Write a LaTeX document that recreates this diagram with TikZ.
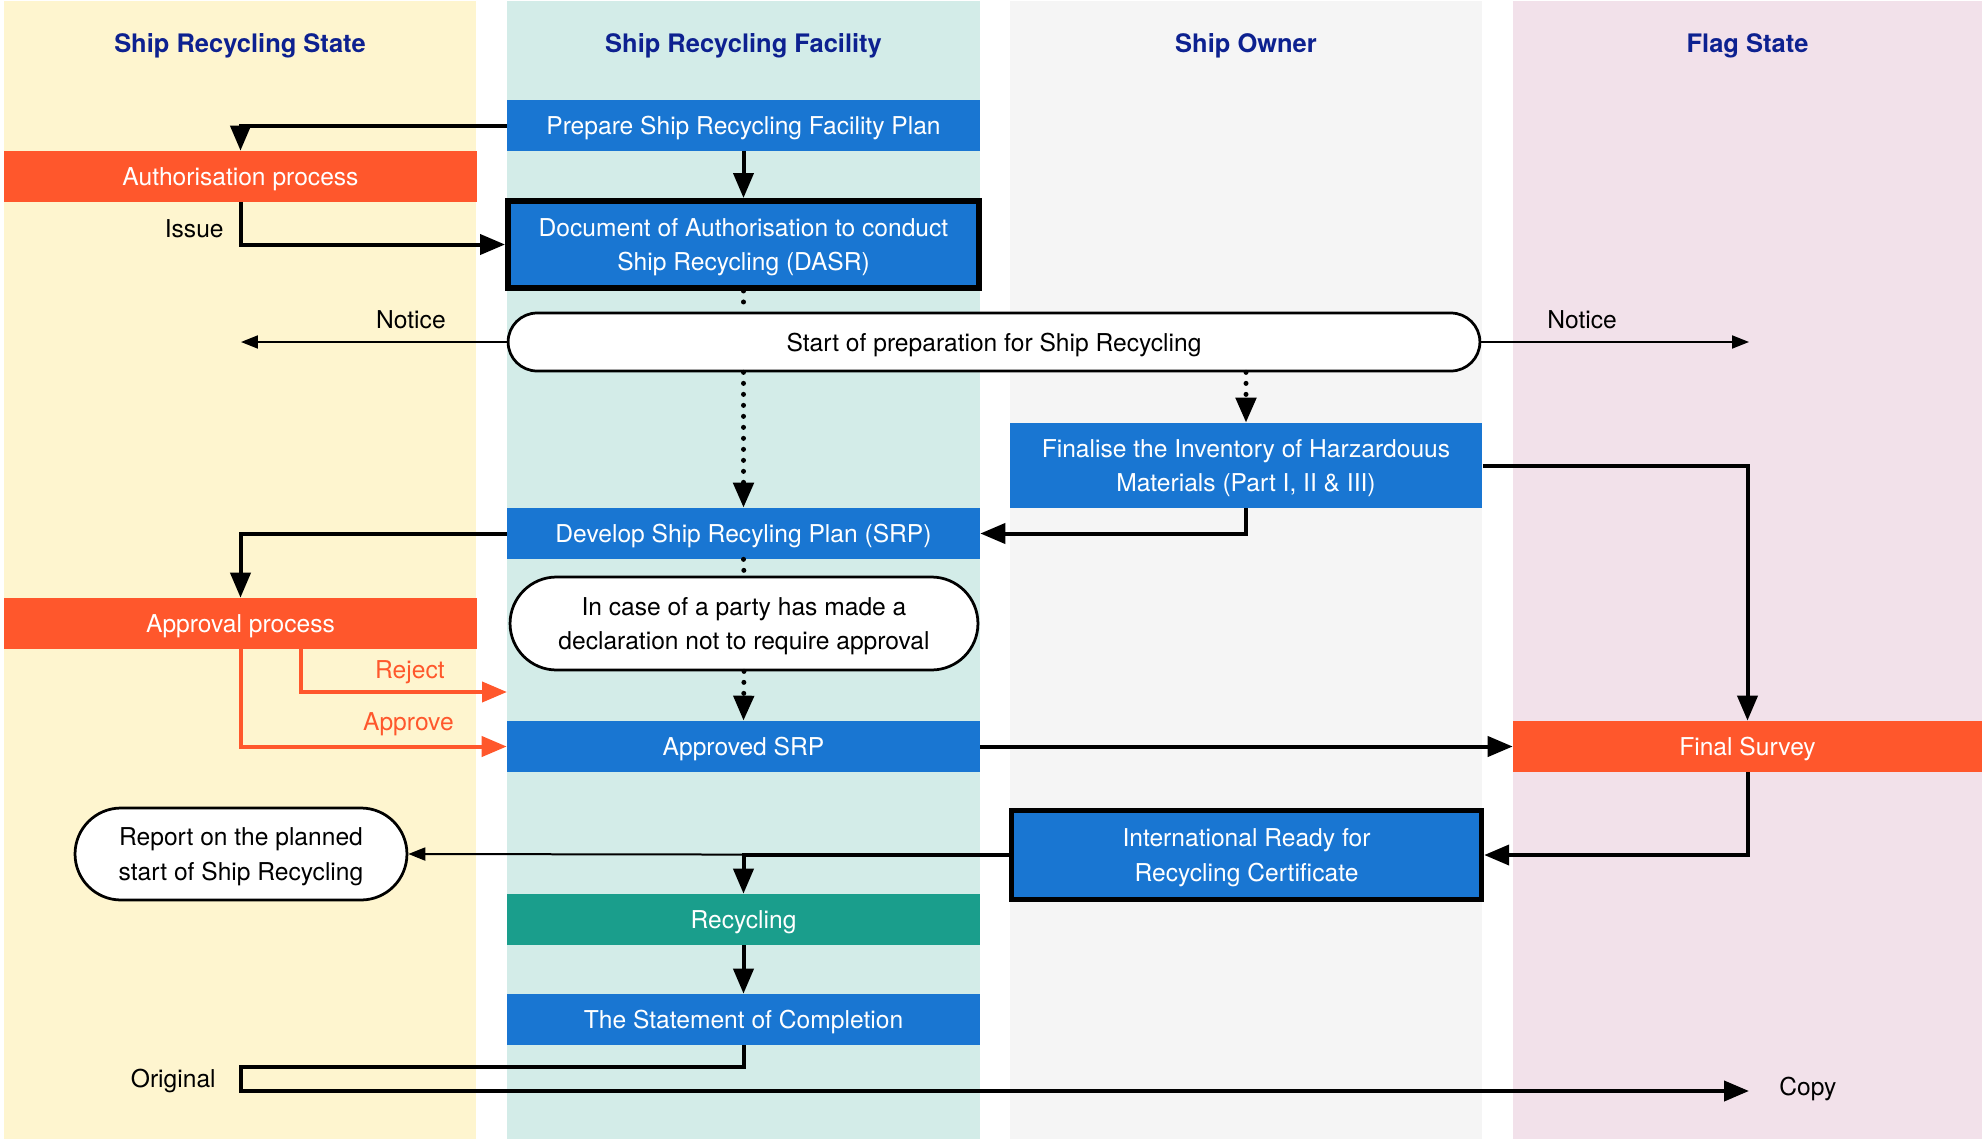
\documentclass[tikz,border=0pt]{standalone}
\usepackage{fontspec}
\setmainfont{TeX Gyre Heros}
\usepackage{tikz}
\usetikzlibrary{arrows.meta,shapes.misc}
\definecolor{laneyellow}{HTML}{FEF5CF}
\definecolor{lanegreen}{HTML}{D3ECE8}
\definecolor{lanegrey}{HTML}{F5F5F5}
\definecolor{lanepink}{HTML}{F2E1EA}
\definecolor{boxblue}{HTML}{1976D2}
\definecolor{boxorange}{HTML}{FF572C}
\definecolor{boxteal}{HTML}{1A9E8C}
\definecolor{titleblue}{HTML}{0D2190}
\tikzset{
  stepbox/.style={fill=boxblue,text=white,minimum width=9.46cm,minimum height=1.02cm,inner sep=0pt,text depth=0pt,align=center},
  keybox/.style={stepbox,draw=black,line width=0.11cm,minimum width=9.43cm,minimum height=1.75cm},
  procbox/.style={stepbox,fill=boxorange},
  pill/.style={rounded rectangle,draw=black,fill=white,line width=0.055cm,inner sep=0pt,text depth=0pt,align=center},
  lanetitle/.style={text=titleblue,font=\fontsize{14.5}{17}\selectfont\bfseries},
  lbl/.style={inner sep=0pt},
  flow/.style={line width=0.08cm,-{Triangle[length=0.5cm,width=0.4cm]}},
  thinflow/.style={line width=0.04cm,-{Triangle[length=0.34cm,width=0.26cm]}},
  orflow/.style={flow,draw=boxorange},
  dots/.style={line width=0.1cm,line cap=round,dash pattern=on 0pt off 0.22cm},
  dotflow/.style={dots,-{Triangle[length=0.5cm,width=0.4cm]}}
}

\begin{document}
\begin{tikzpicture}[x=0.02cm,y=-0.02cm,font=\fontsize{14}{19.5}\selectfont]
\useasboundingbox (0,0) rectangle (1982,1140);
\fill[laneyellow] (4,1) rectangle (476,1139);
\fill[lanegreen] (507,1) rectangle (980,1139);
\fill[lanegrey] (1010,1) rectangle (1482,1139);
\fill[lanepink] (1513,1) rectangle (1982,1139);

\node[lanetitle] (tstate) at (240,46) {Ship Recycling State};
\node[lanetitle] (tfacility) at (743.5,46) {Ship Recycling Facility};
\node[lanetitle] (towner) at (1246,46) {Ship Owner};
\node[lanetitle] (tflag) at (1747.5,46) {Flag State};

\node[stepbox] (prep) at (743.5,125.5) {Prepare Ship Recycling Facility Plan};
\node[procbox] (auth) at (240.5,176.5) {Authorisation process};
\node[keybox] (dasr) at (743.5,244.5) {Document of Authorisation to conduct\\Ship Recycling (DASR)};
\node[pill,minimum width=19.44cm,minimum height=1.16cm] (start) at (994,342) {Start of preparation for Ship Recycling};
\node[stepbox,minimum height=1.7cm] (fin) at (1246,465.5) {Finalise the Inventory of Harzardouus\\Materials (Part I, II \& III)};
\node[stepbox] (dev) at (743.5,533.5) {Develop Ship Recyling Plan (SRP)};
\node[procbox] (appr) at (240.5,623.5) {Approval process};
\node[pill,minimum width=9.36cm,minimum height=1.86cm] (decl) at (744,623.5) {In case of a party has made a\\declaration not to require approval};
\node[stepbox] (srp) at (743.5,746.5) {Approved SRP};
\node[procbox,minimum width=9.38cm] (survey) at (1747.5,746.5) {Final Survey};
\node[pill,minimum width=6.64cm,minimum height=1.84cm] (report) at (241,854) {Report on the planned\\start of Ship Recycling};
\node[keybox,minimum width=9.4cm,minimum height=1.78cm] (irrc) at (1246.5,855) {International Ready for\\Recycling Certificate};
\node[stepbox,fill=boxteal] (recyc) at (743.5,919.5) {Recycling};
\node[stepbox] (stmt) at (743.5,1019.5) {The Statement of Completion};

\coordinate (noticeL) at (241,342);
\coordinate (noticeR) at (1749,342);
\coordinate (rej) at (507,692);
\coordinate (orig) at (241,1067);
\coordinate (copy) at (1749,1091);

\draw[flow] (prep.west) -| (auth.north);
\draw[flow] (prep.south) -- (dasr.north);
\draw[flow] (auth.south) |- (dasr.west);
\draw[dots] (dasr.south) -- (dasr.south |- start.north);
\draw[thinflow] (start.west) -- (noticeL);
\draw[thinflow] (start.east) -- (noticeR);
\draw[dotflow] (dev.north |- start.south) -- (dev.north);
\draw[dotflow] (fin.north |- start.south) -- (fin.north);
\draw[flow] (fin.south) |- (dev.east);
\draw[flow] (fin.east) -| (survey.north);
\draw[flow] (dev.west) -| (appr.north);
\draw[dots] (dev.south) -- (decl.north);
\draw[dotflow] (decl.south) -- (srp.north);
\draw[orflow] ([xshift=1.22cm]appr.south) |- (rej);
\draw[orflow] (appr.south) |- (srp.west);
\draw[flow] (srp.east) -- (survey.west);
\draw[flow] (survey.south) |- (irrc.east);
\draw[thinflow] (irrc.west) -- (report.east);
\draw[flow] (irrc.west) -| (recyc.north);
\draw[flow] (recyc.south) -- (stmt.north);
\draw[flow] (stmt.south) |- (orig) |- (copy);

\node[lbl,anchor=east] (lissue) at (224,229) {Issue};
\node[lbl,anchor=east] (lnoticeL) at (446,320) {Notice};
\node[lbl,anchor=west] (lnoticeR) at (1547,320) {Notice};
\node[lbl,anchor=east,text=boxorange] (lreject) at (445,672) {Reject};
\node[lbl,anchor=east,text=boxorange] (lapprove) at (454,724) {Approve};
\node[lbl,anchor=east] (lorig) at (216,1081) {Original};
\node[lbl,anchor=west] (lcopy) at (1779,1089) {Copy};
\end{tikzpicture}
\end{document}
